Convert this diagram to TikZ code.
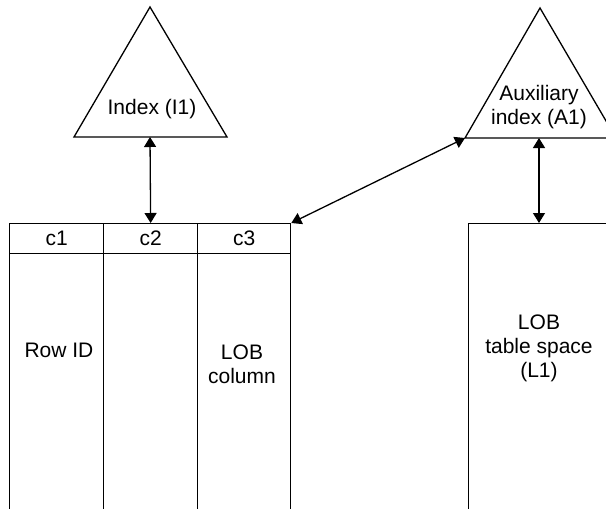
\documentclass[tikz,border=0pt]{standalone}
\usepackage{fontspec}
\setmainfont{Liberation Sans}
\usetikzlibrary{arrows.meta}
\begin{document}
\begin{tikzpicture}[x=1pt,y=-1pt,
  line width=1.3pt,
  txt/.style={font=\fontsize{21}{24}\selectfont, align=center, inner sep=0pt},
  cell/.style={draw, minimum width=94pt, minimum height=30pt, anchor=north west, inner sep=0pt, font=\fontsize{21}{22}\selectfont},
  body/.style={draw, minimum width=94pt, minimum height=300pt, anchor=north west, inner sep=0pt},
  dbl/.style={{Triangle[length=10pt,width=12pt]}-{Triangle[length=10pt,width=12pt]}}
  ]
\useasboundingbox (0,0) rectangle (606,509);
\clip (0,0) rectangle (606,509);
% Index I1 triangle
\coordinate (i1top) at (150,7);
\coordinate (i1bl) at (74,137);
\coordinate (i1br) at (227,137);
\coordinate (i1mid) at (150,137);
\draw[line join=miter] (i1top) -- (i1br) -- (i1bl) -- cycle;
\node[txt] (i1txt) at (152,109) {Index (I1)};
% Auxiliary index A1 triangle
\coordinate (a1top) at (540,8);
\coordinate (a1bl) at (465,138);
\coordinate (a1br) at (616,138);
\coordinate (a1mid) at (539,138);
\draw[line join=miter] (a1top) -- (a1br) -- (a1bl) -- cycle;
\node[txt] (a1txt) at (539,107) {Auxiliary\\index (A1)};
% table
\node[cell] (c1) at (9,223) {c1};
\node[cell] (c2) at (103,223) {c2};
\node[cell, minimum width=93pt] (c3) at (197,223) {c3};
\node[body] (b1) at (9,253) {};
\node[body] (b2) at (103,253) {};
\node[body, minimum width=93pt] (b3) at (197,253) {};
\node[txt] (rowid) at (59,350) {Row ID};
\node[txt] (lobcol) at (242,364) {LOB\\column};
% LOB table space
\node[draw, minimum width=250pt, minimum height=400pt, anchor=north west] (l1) at (468,223) {};
\node[txt] (l1txt) at (539,348) {LOB\\table space\\(L1)};
% connectors
\draw[dbl] (i1mid) -- (c2.north);
\draw[dbl] (c3.north east) -- (a1bl);
\draw[dbl] (a1mid) -- (a1mid |- l1.north);
\end{tikzpicture}
\end{document}
